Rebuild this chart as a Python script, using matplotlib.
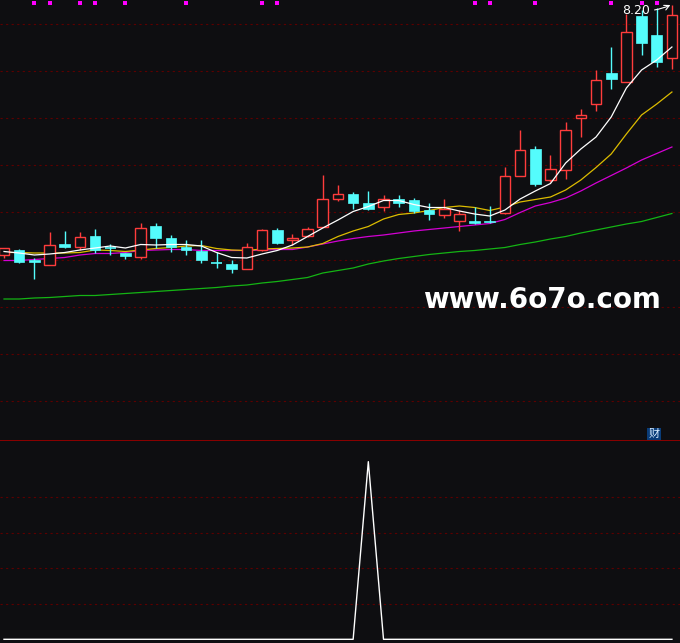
import numpy as np
import matplotlib
matplotlib.use("Agg")
import matplotlib.pyplot as plt
from matplotlib.patches import Rectangle
import matplotlib.transforms as mtransforms

# ---------------- data ----------------
opens = [3.20, 3.30, 3.10, 3.00, 3.42, 3.37, 3.58, 3.35, 3.25, 3.17,
         3.78, 3.54, 3.36, 3.28, 3.04, 3.02, 2.93, 3.31, 3.70, 3.50,
         3.59, 3.77, 4.33, 4.42, 4.24, 4.17, 4.32, 4.30, 4.11, 4.01,
         3.89, 3.88, 3.88, 4.05, 4.79, 5.32, 4.71, 4.91, 5.95, 6.23,
         6.85, 6.67, 7.99, 7.60, 7.15]
highs = [3.34, 3.32, 3.14, 3.66, 3.68, 3.66, 3.72, 3.42, 3.25, 3.84,
         3.84, 3.60, 3.50, 3.50, 3.26, 3.10, 3.44, 3.72, 3.74, 3.62,
         3.76, 4.80, 4.60, 4.46, 4.48, 4.41, 4.40, 4.34, 4.23, 4.32,
         4.10, 4.16, 4.18, 4.96, 5.70, 5.38, 5.20, 5.86, 6.12, 6.91,
         7.36, 8.02, 8.10, 8.15, 8.20]
lows = [3.14, 3.04, 2.72, 3.00, 3.34, 3.30, 3.24, 3.20, 3.12, 3.12,
        3.34, 3.26, 3.20, 3.04, 2.94, 2.85, 2.93, 3.28, 3.42, 3.40,
        3.57, 3.77, 4.29, 4.13, 4.10, 4.09, 4.17, 4.05, 3.91, 3.95,
        3.69, 3.82, 3.85, 4.03, 4.79, 4.59, 4.65, 4.72, 5.57, 6.09,
        6.52, 6.67, 7.20, 6.97, 6.92]
closes = [3.34, 3.06, 3.06, 3.40, 3.36, 3.57, 3.30, 3.35, 3.19, 3.74,
          3.55, 3.37, 3.31, 3.10, 3.04, 2.92, 3.36, 3.71, 3.45, 3.54,
          3.73, 4.33, 4.42, 4.25, 4.13, 4.33, 4.25, 4.09, 4.03, 4.11,
          4.02, 3.85, 3.86, 4.79, 5.31, 4.63, 4.93, 5.71, 6.00, 6.70,
          6.72, 7.65, 7.45, 7.06, 8.00]

ma5 = [3.27, 3.24, 3.20, 3.22, 3.25, 3.30, 3.34, 3.38, 3.34, 3.41,
       3.40, 3.41, 3.41, 3.38, 3.25, 3.15, 3.14, 3.22, 3.29, 3.40,
       3.57, 3.74, 3.90, 4.07, 4.17, 4.29, 4.29, 4.21, 4.15, 4.15,
       4.08, 4.02, 3.98, 4.10, 4.32, 4.48, 4.63, 5.04, 5.32, 5.56,
       5.96, 6.54, 6.90, 7.10, 7.36]
ma10 = [3.25, 3.25, 3.24, 3.24, 3.24, 3.25, 3.30, 3.29, 3.27, 3.30,
        3.33, 3.35, 3.38, 3.39, 3.33, 3.30, 3.29, 3.32, 3.33, 3.34,
        3.36, 3.43, 3.57, 3.68, 3.77, 3.92, 4.01, 4.04, 4.09, 4.15,
        4.18, 4.15, 4.09, 4.16, 4.26, 4.31, 4.36, 4.50, 4.70, 4.95,
        5.22, 5.62, 6.00, 6.22, 6.46]
ma20 = [3.09, 3.09, 3.11, 3.13, 3.15, 3.20, 3.23, 3.23, 3.25, 3.29,
        3.30, 3.31, 3.31, 3.29, 3.29, 3.29, 3.29, 3.30, 3.31, 3.31,
        3.36, 3.42, 3.48, 3.53, 3.57, 3.60, 3.64, 3.68, 3.71, 3.74,
        3.77, 3.80, 3.83, 3.91, 4.05, 4.18, 4.25, 4.34, 4.48, 4.64,
        4.79, 4.94, 5.10, 5.23, 5.36]
ma60 = [2.32, 2.32, 2.34, 2.35, 2.37, 2.39, 2.39, 2.41, 2.43, 2.45,
        2.47, 2.49, 2.51, 2.53, 2.55, 2.58, 2.60, 2.64, 2.67, 2.71,
        2.75, 2.84, 2.89, 2.94, 3.02, 3.08, 3.13, 3.17, 3.21, 3.24,
        3.27, 3.29, 3.32, 3.35, 3.41, 3.46, 3.52, 3.57, 3.64, 3.70,
        3.76, 3.82, 3.87, 3.95, 4.03]

signal_days = [2, 3, 5, 6, 8, 12, 17, 18, 31, 32, 35, 40, 42, 43]
indicator = [0] * 24 + [100] + [0] * 20
grid_main = [7.82, 6.878, 5.936, 4.994, 4.052, 3.11, 2.168, 1.226, 0.284]
grid_sub = [20, 40, 60, 80]
watermark = "www.6o7o.com"
badge = "财"

# ---------------- style ----------------
BG = "#0e0e11"
RED = "#ff3c3c"
CYAN = "#54fcfc"
W, H = 680, 643
SPLIT = 440  # px from top where the lower pane starts
X0, STEP = 4.0, 15.18

fig = plt.figure(figsize=(W / 100, H / 100), dpi=100, facecolor=BG)
ax = fig.add_axes([0, (H - SPLIT) / H, 1, SPLIT / H], facecolor=BG)
ax2 = fig.add_axes([0, 0, 1, (H - SPLIT) / H], facecolor=BG)
for a in (ax, ax2):
    a.set_axis_off()
    a.set_xlim(-X0 / STEP, (W - X0) / STEP)

ax.set_ylim(8.30 - SPLIT * 0.02, 8.30)
ax2.set_ylim(-2.08, 112.2)

for g in grid_main:
    ax.axhline(g, color="#5c0000", lw=0.8, linestyle=(0, (2, 3)), zorder=0)
for g in grid_sub:
    ax2.axhline(g, color="#5c0000", lw=0.8, linestyle=(0, (2, 3)), zorder=0)
ax2.axhline(112.2, color="#8c0000", lw=1.4, zorder=1)

n = len(opens)
x = np.arange(n)
bw = 0.70
for i in range(n):
    o, h, l, c = opens[i], highs[i], lows[i], closes[i]
    if c > o:
        ax.vlines(i, c, h, color=RED, lw=1.0, zorder=3)
        ax.vlines(i, l, o, color=RED, lw=1.0, zorder=3)
        ax.add_patch(Rectangle((i - bw / 2, o), bw, c - o, facecolor=BG,
                               edgecolor=RED, lw=1.0, zorder=3))
    else:
        ax.vlines(i, l, h, color=CYAN, lw=1.0, zorder=3)
        if o - c > 0.005:
            ax.add_patch(Rectangle((i - bw / 2, c), bw, o - c, facecolor=CYAN,
                                   edgecolor=CYAN, lw=0.5, zorder=3))
        else:
            ax.hlines(c, i - bw / 2, i + bw / 2, color=CYAN, lw=1.2, zorder=3)

ax.plot(x, ma60, color="#14b414", lw=0.9, zorder=2)
ax.plot(x, ma20, color="#d400d4", lw=0.9, zorder=2)
ax.plot(x, ma10, color="#dcbc00", lw=0.9, zorder=2)
ax.plot(x, ma5, color="#ffffff", lw=0.9, zorder=4)

trans = mtransforms.blended_transform_factory(ax.transData, ax.transAxes)
ax.scatter(signal_days, [1 - 3 / SPLIT] * len(signal_days), marker="s",
           s=9, color="#ff00ff", transform=trans, zorder=5, linewidths=0)

imax = int(np.argmax(highs))
ax.annotate(f"{highs[imax]:.2f}", xy=(imax - 0.1, highs[imax]),
            xytext=(40.75, highs[imax] - 0.10), color="white", fontsize=9,
            ha="left", va="center",
            arrowprops=dict(arrowstyle="->", color="white", lw=0.8,
                            shrinkA=1, shrinkB=0,
                            connectionstyle="arc3,rad=0.15"),
            zorder=6)

ax2.plot(x, indicator, color="white", lw=1.0)

fig.text(423 / W, 1 - 308 / H, watermark, color="white", fontsize=20,
         fontweight="bold", family="DejaVu Sans", ha="left", va="baseline")
fig.text(654 / W, 1 - 434 / H, badge, color="#d8ecff", fontsize=8,
         family=["Noto Sans CJK SC", "DejaVu Sans"], ha="center", va="center",
         bbox=dict(boxstyle="square,pad=0.1", facecolor="#0a3c78",
                   edgecolor="none"))

fig.savefig("out.png", dpi=100, facecolor=BG)
